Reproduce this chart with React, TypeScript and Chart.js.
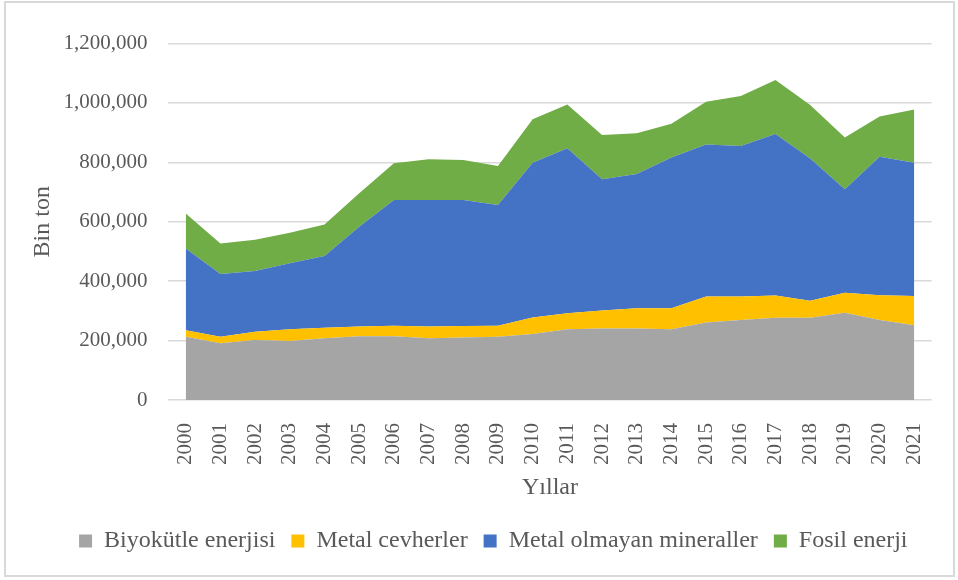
import React, { useEffect, useRef } from "react";
import { Chart, registerables } from "chart.js";

Chart.register(...registerables);

const years = [
  "2000", "2001", "2002", "2003", "2004", "2005", "2006", "2007", "2008", "2009", "2010",
  "2011", "2012", "2013", "2014", "2015", "2016", "2017", "2018", "2019", "2020", "2021",
];

const biyokutle = [
  213000, 191000, 202000, 199000, 208000, 215000, 215000, 208000, 210000, 213000, 222000,
  238000, 241000, 241000, 238000, 261000, 269000, 277000, 277000, 294000, 269000, 252000,
];
const metalCevher = [
  22000, 22000, 28000, 39000, 35000, 32000, 35000, 39000, 39000, 37000, 56000,
  54000, 60000, 68000, 71000, 87000, 79000, 75000, 57000, 67000, 84000, 98000,
];
const metalOlmayan = [
  275000, 211000, 204000, 222000, 242000, 336000, 423000, 426000, 424000, 406000, 521000,
  555000, 442000, 452000, 507000, 512000, 507000, 543000, 479000, 348000, 466000, 449000,
];
const fosil = [
  118000, 103000, 105000, 103000, 106000, 113000, 124000, 137000, 135000, 132000, 146000,
  148000, 149000, 137000, 114000, 144000, 168000, 182000, 180000, 175000, 135000, 179000,
];

const seriesNames = ["Biyokütle enerjisi", "Metal cevherler", "Metal olmayan mineraller", "Fosil enerji"];
const seriesColors = ["#A5A5A5", "#FFC000", "#4472C4", "#70AD47"];
const yTicks = [0, 200000, 400000, 600000, 800000, 1000000, 1200000];

const FONT = "'Liberation Serif', 'Times New Roman', serif";
const TEXT = "#595959";

export default function App() {
  const ref = useRef<HTMLCanvasElement | null>(null);

  useEffect(() => {
    if (!ref.current) return;
    const values = [biyokutle, metalCevher, metalOlmayan, fosil];
    const chart = new Chart(ref.current, {
      type: "line",
      data: {
        labels: years,
        datasets: values.map((v, i) => ({
          label: seriesNames[i],
          data: v,
          backgroundColor: seriesColors[i],
          borderColor: seriesColors[i],
          borderWidth: 0,
          pointRadius: 0,
          tension: 0,
          fill: i === 0 ? "origin" : "-1",
        })),
      },
      options: {
        responsive: false,
        animation: false,
        layout: { padding: { left: 55, right: 26.4, top: 43.5, bottom: 17 } },
        plugins: {
          tooltip: { enabled: false },
          legend: {
            position: "bottom",
            labels: {
              boxWidth: 13,
              boxHeight: 13,
              padding: 16,
              color: TEXT,
              font: { family: FONT, size: 24 },
            },
          },
        },
        scales: {
          x: {
            offset: true,
            grid: { display: false },
            border: { display: false },
            ticks: {
              autoSkip: false,
              minRotation: 90,
              maxRotation: 90,
              padding: 15,
              color: TEXT,
              font: { family: FONT, size: 21 },
            },
            title: {
              display: true,
              text: "Yıllar",
              color: TEXT,
              font: { family: FONT, size: 24 },
              padding: { top: 0, bottom: 11 },
            },
            afterFit: (s: any) => {
              s.height = 113;
            },
          },
          y: {
            stacked: true,
            min: 0,
            max: 1200000,
            grid: { color: "#D9D9D9", lineWidth: 1.5, drawTicks: false },
            border: { display: false },
            afterBuildTicks: (s: any) => {
              s.ticks = yTicks.map((v) => ({ value: v }));
            },
            ticks: {
              padding: 21,
              color: TEXT,
              font: { family: FONT, size: 21 },
              callback: (v: any) => Number(v).toLocaleString("en-US"),
            },
            title: {
              display: true,
              text: "Bin ton",
              color: TEXT,
              font: { family: FONT, size: 24 },
              padding: { top: -26.4, bottom: 0 },
            },
            afterFit: (s: any) => {
              s.width = 113.4;
            },
          },
        },
      },
    });
    return () => chart.destroy();
  }, []);

  return (
    <div style={{ position: "absolute", left: 0, top: 0, width: 958, height: 580, background: "#fff" }}>
      <canvas ref={ref} width={958} height={580} style={{ display: "block", position: "absolute", left: 0, top: 0 }} />
      <div
        style={{
          position: "absolute",
          left: 4,
          top: 1,
          width: 947,
          height: 572,
          border: "2px solid #D9D9D9",
          pointerEvents: "none",
        }}
      />
    </div>
  );
}
